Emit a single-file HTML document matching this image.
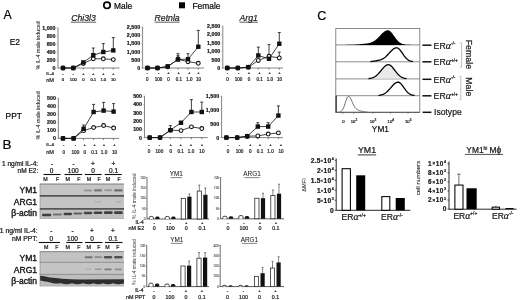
<!DOCTYPE html>
<html><head><meta charset="utf-8"><style>
html,body{margin:0;padding:0;background:#fff;}
svg{display:block;filter:blur(0.3px);}
text{font-family:"Liberation Sans", Arial, sans-serif;stroke:#1a1a1a;stroke-width:0.22px;stroke-linejoin:round;}
</style></head><body>
<svg width="520" height="300" viewBox="0 0 520 300">
<defs><filter id="bl" x="-50%" y="-100%" width="200%" height="300%"><feGaussianBlur stdDeviation="0.7"/></filter></defs>
<rect width="520" height="300" fill="#fff"/>
<line x1="58.00" y1="27.50" x2="58.00" y2="68.50" stroke="#777" stroke-width="0.9"/>
<line x1="58.00" y1="68.00" x2="119.50" y2="68.00" stroke="#777" stroke-width="0.9"/>
<line x1="56.40" y1="68.00" x2="58.00" y2="68.00" stroke="#aaa" stroke-width="0.6"/>
<text x="55.50" y="69.90" font-size="5.3" text-anchor="end" font-weight="bold" fill="#222">0</text>
<line x1="56.40" y1="60.00" x2="58.00" y2="60.00" stroke="#aaa" stroke-width="0.6"/>
<text x="55.50" y="61.90" font-size="5.3" text-anchor="end" font-weight="bold" fill="#222">200</text>
<line x1="56.40" y1="52.00" x2="58.00" y2="52.00" stroke="#aaa" stroke-width="0.6"/>
<text x="55.50" y="53.90" font-size="5.3" text-anchor="end" font-weight="bold" fill="#222">400</text>
<line x1="56.40" y1="44.00" x2="58.00" y2="44.00" stroke="#aaa" stroke-width="0.6"/>
<text x="55.50" y="45.90" font-size="5.3" text-anchor="end" font-weight="bold" fill="#222">600</text>
<line x1="56.40" y1="36.00" x2="58.00" y2="36.00" stroke="#aaa" stroke-width="0.6"/>
<text x="55.50" y="37.90" font-size="5.3" text-anchor="end" font-weight="bold" fill="#222">800</text>
<line x1="56.40" y1="28.00" x2="58.00" y2="28.00" stroke="#aaa" stroke-width="0.6"/>
<text x="55.50" y="29.90" font-size="5.3" text-anchor="end" font-weight="bold" fill="#222">1,000</text>
<line x1="63.00" y1="68.00" x2="63.00" y2="69.60" stroke="#444" stroke-width="0.7"/>
<line x1="73.30" y1="68.00" x2="73.30" y2="69.60" stroke="#444" stroke-width="0.7"/>
<line x1="83.30" y1="68.00" x2="83.30" y2="69.60" stroke="#444" stroke-width="0.7"/>
<line x1="93.30" y1="68.00" x2="93.30" y2="69.60" stroke="#444" stroke-width="0.7"/>
<line x1="103.30" y1="68.00" x2="103.30" y2="69.60" stroke="#444" stroke-width="0.7"/>
<line x1="113.30" y1="68.00" x2="113.30" y2="69.60" stroke="#444" stroke-width="0.7"/>
<polyline points="63.00,68.00 73.30,68.00 83.30,62.40 93.30,55.20 103.30,52.00 113.30,50.40" fill="none" stroke="#111" stroke-width="0.8"/>
<polyline points="63.00,68.00 73.30,68.00 83.30,63.60 93.30,58.80 103.30,58.80 113.30,59.60" fill="none" stroke="#111" stroke-width="0.8"/>
<line x1="93.30" y1="55.20" x2="93.30" y2="48.00" stroke="#111" stroke-width="0.8"/>
<line x1="91.80" y1="48.00" x2="94.80" y2="48.00" stroke="#111" stroke-width="0.8"/>
<line x1="103.30" y1="52.00" x2="103.30" y2="43.60" stroke="#111" stroke-width="0.8"/>
<line x1="101.80" y1="43.60" x2="104.80" y2="43.60" stroke="#111" stroke-width="0.8"/>
<line x1="113.30" y1="50.40" x2="113.30" y2="37.60" stroke="#111" stroke-width="0.8"/>
<line x1="111.80" y1="37.60" x2="114.80" y2="37.60" stroke="#111" stroke-width="0.8"/>
<line x1="103.30" y1="58.80" x2="103.30" y2="58.00" stroke="#111" stroke-width="0.8"/>
<line x1="101.80" y1="58.00" x2="104.80" y2="58.00" stroke="#111" stroke-width="0.8"/>
<circle cx="63.00" cy="68.00" r="1.9" fill="#fff" stroke="#111" stroke-width="1.05"/>
<circle cx="73.30" cy="68.00" r="1.9" fill="#fff" stroke="#111" stroke-width="1.05"/>
<circle cx="83.30" cy="63.60" r="1.9" fill="#fff" stroke="#111" stroke-width="1.05"/>
<circle cx="93.30" cy="58.80" r="1.9" fill="#fff" stroke="#111" stroke-width="1.05"/>
<circle cx="103.30" cy="58.80" r="1.9" fill="#fff" stroke="#111" stroke-width="1.05"/>
<circle cx="113.30" cy="59.60" r="1.9" fill="#fff" stroke="#111" stroke-width="1.05"/>
<rect x="60.80" y="65.80" width="4.40" height="4.40" fill="#111"/>
<rect x="71.10" y="65.80" width="4.40" height="4.40" fill="#111"/>
<rect x="81.10" y="60.20" width="4.40" height="4.40" fill="#111"/>
<rect x="91.10" y="53.00" width="4.40" height="4.40" fill="#111"/>
<rect x="101.10" y="49.80" width="4.40" height="4.40" fill="#111"/>
<rect x="111.10" y="48.20" width="4.40" height="4.40" fill="#111"/>
<text x="63.00" y="75.30" font-size="4.2" text-anchor="middle" fill="#333">-</text>
<text x="73.30" y="75.30" font-size="4.2" text-anchor="middle" fill="#333">-</text>
<text x="83.30" y="75.30" font-size="4.2" text-anchor="middle" fill="#333">+</text>
<text x="93.30" y="75.30" font-size="4.2" text-anchor="middle" fill="#333">+</text>
<text x="103.30" y="75.30" font-size="4.2" text-anchor="middle" fill="#333">+</text>
<text x="113.30" y="75.30" font-size="4.2" text-anchor="middle" fill="#333">+</text>
<text x="63.00" y="81.31" font-size="4.2" text-anchor="middle" fill="#333">0</text>
<text x="73.30" y="81.31" font-size="4.2" text-anchor="middle" fill="#333">100</text>
<text x="83.30" y="81.31" font-size="4.2" text-anchor="middle" fill="#333">0</text>
<text x="93.30" y="81.31" font-size="4.2" text-anchor="middle" fill="#333">0.1</text>
<text x="103.30" y="81.31" font-size="4.2" text-anchor="middle" fill="#333">1.0</text>
<text x="113.30" y="81.31" font-size="4.2" text-anchor="middle" fill="#333">10</text>
<text x="46.30" y="75.30" font-size="4.4" fill="#333">IL-4</text>
<text x="46.20" y="81.70" font-size="5.6" fill="#333">nM</text>
<text x="0" y="0" font-size="5.3" text-anchor="middle" fill="#444" style="stroke-width:0.1px" transform="translate(39.60,45.40) rotate(-90)">% IL-4 male induced</text>
<line x1="142.60" y1="26.60" x2="142.60" y2="68.50" stroke="#777" stroke-width="0.9"/>
<line x1="142.60" y1="68.00" x2="204.00" y2="68.00" stroke="#777" stroke-width="0.9"/>
<line x1="141.00" y1="68.00" x2="142.60" y2="68.00" stroke="#aaa" stroke-width="0.6"/>
<text x="140.10" y="69.90" font-size="5.3" text-anchor="end" font-weight="bold" fill="#222">0</text>
<line x1="141.00" y1="59.82" x2="142.60" y2="59.82" stroke="#aaa" stroke-width="0.6"/>
<text x="140.10" y="61.72" font-size="5.3" text-anchor="end" font-weight="bold" fill="#222">500</text>
<line x1="141.00" y1="51.64" x2="142.60" y2="51.64" stroke="#aaa" stroke-width="0.6"/>
<text x="140.10" y="53.54" font-size="5.3" text-anchor="end" font-weight="bold" fill="#222">1,000</text>
<line x1="141.00" y1="43.46" x2="142.60" y2="43.46" stroke="#aaa" stroke-width="0.6"/>
<text x="140.10" y="45.36" font-size="5.3" text-anchor="end" font-weight="bold" fill="#222">1,500</text>
<line x1="141.00" y1="35.28" x2="142.60" y2="35.28" stroke="#aaa" stroke-width="0.6"/>
<text x="140.10" y="37.18" font-size="5.3" text-anchor="end" font-weight="bold" fill="#222">2,000</text>
<line x1="141.00" y1="27.10" x2="142.60" y2="27.10" stroke="#aaa" stroke-width="0.6"/>
<text x="140.10" y="29.00" font-size="5.3" text-anchor="end" font-weight="bold" fill="#222">2,500</text>
<line x1="147.50" y1="68.00" x2="147.50" y2="69.60" stroke="#444" stroke-width="0.7"/>
<line x1="157.50" y1="68.00" x2="157.50" y2="69.60" stroke="#444" stroke-width="0.7"/>
<line x1="167.70" y1="68.00" x2="167.70" y2="69.60" stroke="#444" stroke-width="0.7"/>
<line x1="178.00" y1="68.00" x2="178.00" y2="69.60" stroke="#444" stroke-width="0.7"/>
<line x1="188.00" y1="68.00" x2="188.00" y2="69.60" stroke="#444" stroke-width="0.7"/>
<line x1="198.30" y1="68.00" x2="198.30" y2="69.60" stroke="#444" stroke-width="0.7"/>
<polyline points="147.50,68.00 157.50,68.00 167.70,66.36 178.00,59.49 188.00,59.17 198.30,46.73" fill="none" stroke="#111" stroke-width="0.8"/>
<polyline points="147.50,68.00 157.50,68.00 167.70,66.69 178.00,59.17 188.00,61.70 198.30,63.30" fill="none" stroke="#111" stroke-width="0.8"/>
<line x1="178.00" y1="59.49" x2="178.00" y2="53.69" stroke="#111" stroke-width="0.8"/>
<line x1="176.50" y1="53.69" x2="179.50" y2="53.69" stroke="#111" stroke-width="0.8"/>
<line x1="188.00" y1="59.17" x2="188.00" y2="53.69" stroke="#111" stroke-width="0.8"/>
<line x1="186.50" y1="53.69" x2="189.50" y2="53.69" stroke="#111" stroke-width="0.8"/>
<line x1="198.30" y1="46.73" x2="198.30" y2="30.37" stroke="#111" stroke-width="0.8"/>
<line x1="196.80" y1="30.37" x2="199.80" y2="30.37" stroke="#111" stroke-width="0.8"/>
<line x1="178.00" y1="59.17" x2="178.00" y2="55.81" stroke="#111" stroke-width="0.8"/>
<line x1="176.50" y1="55.81" x2="179.50" y2="55.81" stroke="#111" stroke-width="0.8"/>
<circle cx="147.50" cy="68.00" r="1.9" fill="#fff" stroke="#111" stroke-width="1.05"/>
<circle cx="157.50" cy="68.00" r="1.9" fill="#fff" stroke="#111" stroke-width="1.05"/>
<circle cx="167.70" cy="66.69" r="1.9" fill="#fff" stroke="#111" stroke-width="1.05"/>
<circle cx="178.00" cy="59.17" r="1.9" fill="#fff" stroke="#111" stroke-width="1.05"/>
<circle cx="188.00" cy="61.70" r="1.9" fill="#fff" stroke="#111" stroke-width="1.05"/>
<circle cx="198.30" cy="63.30" r="1.9" fill="#fff" stroke="#111" stroke-width="1.05"/>
<rect x="145.30" y="65.80" width="4.40" height="4.40" fill="#111"/>
<rect x="155.30" y="65.80" width="4.40" height="4.40" fill="#111"/>
<rect x="165.50" y="64.16" width="4.40" height="4.40" fill="#111"/>
<rect x="175.80" y="57.29" width="4.40" height="4.40" fill="#111"/>
<rect x="185.80" y="56.97" width="4.40" height="4.40" fill="#111"/>
<rect x="196.10" y="44.53" width="4.40" height="4.40" fill="#111"/>
<text x="147.20" y="74.00" font-size="4.2" text-anchor="middle" fill="#333">-</text>
<text x="158.60" y="74.00" font-size="4.2" text-anchor="middle" fill="#333">-</text>
<text x="168.40" y="74.00" font-size="4.2" text-anchor="middle" fill="#333">+</text>
<text x="178.80" y="74.00" font-size="4.2" text-anchor="middle" fill="#333">+</text>
<text x="189.30" y="74.00" font-size="4.2" text-anchor="middle" fill="#333">+</text>
<text x="198.60" y="74.00" font-size="4.2" text-anchor="middle" fill="#333">+</text>
<text x="147.20" y="81.02" font-size="4.5" text-anchor="middle" fill="#333">0</text>
<text x="158.60" y="81.02" font-size="4.5" text-anchor="middle" fill="#333">100</text>
<text x="168.40" y="81.02" font-size="4.5" text-anchor="middle" fill="#333">0</text>
<text x="178.80" y="81.02" font-size="4.5" text-anchor="middle" fill="#333">0.1</text>
<text x="189.30" y="81.02" font-size="4.5" text-anchor="middle" fill="#333">1.0</text>
<text x="198.60" y="81.02" font-size="4.5" text-anchor="middle" fill="#333">10</text>
<line x1="222.80" y1="25.70" x2="222.80" y2="68.50" stroke="#777" stroke-width="0.9"/>
<line x1="222.80" y1="68.00" x2="283.00" y2="68.00" stroke="#777" stroke-width="0.9"/>
<line x1="221.20" y1="68.00" x2="222.80" y2="68.00" stroke="#aaa" stroke-width="0.6"/>
<text x="220.30" y="69.90" font-size="5.3" text-anchor="end" font-weight="bold" fill="#222">0</text>
<line x1="221.20" y1="59.64" x2="222.80" y2="59.64" stroke="#aaa" stroke-width="0.6"/>
<text x="220.30" y="61.54" font-size="5.3" text-anchor="end" font-weight="bold" fill="#222">500</text>
<line x1="221.20" y1="51.28" x2="222.80" y2="51.28" stroke="#aaa" stroke-width="0.6"/>
<text x="220.30" y="53.18" font-size="5.3" text-anchor="end" font-weight="bold" fill="#222">1,000</text>
<line x1="221.20" y1="42.92" x2="222.80" y2="42.92" stroke="#aaa" stroke-width="0.6"/>
<text x="220.30" y="44.82" font-size="5.3" text-anchor="end" font-weight="bold" fill="#222">1,500</text>
<line x1="221.20" y1="34.56" x2="222.80" y2="34.56" stroke="#aaa" stroke-width="0.6"/>
<text x="220.30" y="36.46" font-size="5.3" text-anchor="end" font-weight="bold" fill="#222">2,000</text>
<line x1="221.20" y1="26.20" x2="222.80" y2="26.20" stroke="#aaa" stroke-width="0.6"/>
<text x="220.30" y="28.10" font-size="5.3" text-anchor="end" font-weight="bold" fill="#222">2,500</text>
<line x1="227.30" y1="68.00" x2="227.30" y2="69.60" stroke="#444" stroke-width="0.7"/>
<line x1="237.80" y1="68.00" x2="237.80" y2="69.60" stroke="#444" stroke-width="0.7"/>
<line x1="248.30" y1="68.00" x2="248.30" y2="69.60" stroke="#444" stroke-width="0.7"/>
<line x1="258.30" y1="68.00" x2="258.30" y2="69.60" stroke="#444" stroke-width="0.7"/>
<line x1="269.00" y1="68.00" x2="269.00" y2="69.60" stroke="#444" stroke-width="0.7"/>
<line x1="279.30" y1="68.00" x2="279.30" y2="69.60" stroke="#444" stroke-width="0.7"/>
<polyline points="227.30,68.00 237.80,68.00 248.30,67.16 258.30,55.46 269.00,58.80 279.30,43.76" fill="none" stroke="#111" stroke-width="0.8"/>
<polyline points="227.30,68.00 237.80,68.00 248.30,67.16 258.30,60.48 269.00,56.30 279.30,57.97" fill="none" stroke="#111" stroke-width="0.8"/>
<line x1="258.30" y1="55.46" x2="258.30" y2="47.10" stroke="#111" stroke-width="0.8"/>
<line x1="256.80" y1="47.10" x2="259.80" y2="47.10" stroke="#111" stroke-width="0.8"/>
<line x1="269.00" y1="58.80" x2="269.00" y2="44.59" stroke="#111" stroke-width="0.8"/>
<line x1="267.50" y1="44.59" x2="270.50" y2="44.59" stroke="#111" stroke-width="0.8"/>
<line x1="279.30" y1="43.76" x2="279.30" y2="32.55" stroke="#111" stroke-width="0.8"/>
<line x1="277.80" y1="32.55" x2="280.80" y2="32.55" stroke="#111" stroke-width="0.8"/>
<line x1="279.30" y1="57.97" x2="279.30" y2="52.12" stroke="#111" stroke-width="0.8"/>
<line x1="277.80" y1="52.12" x2="280.80" y2="52.12" stroke="#111" stroke-width="0.8"/>
<circle cx="227.30" cy="68.00" r="1.9" fill="#fff" stroke="#111" stroke-width="1.05"/>
<circle cx="237.80" cy="68.00" r="1.9" fill="#fff" stroke="#111" stroke-width="1.05"/>
<circle cx="248.30" cy="67.16" r="1.9" fill="#fff" stroke="#111" stroke-width="1.05"/>
<circle cx="258.30" cy="60.48" r="1.9" fill="#fff" stroke="#111" stroke-width="1.05"/>
<circle cx="269.00" cy="56.30" r="1.9" fill="#fff" stroke="#111" stroke-width="1.05"/>
<circle cx="279.30" cy="57.97" r="1.9" fill="#fff" stroke="#111" stroke-width="1.05"/>
<rect x="225.10" y="65.80" width="4.40" height="4.40" fill="#111"/>
<rect x="235.60" y="65.80" width="4.40" height="4.40" fill="#111"/>
<rect x="246.10" y="64.96" width="4.40" height="4.40" fill="#111"/>
<rect x="256.10" y="53.26" width="4.40" height="4.40" fill="#111"/>
<rect x="266.80" y="56.60" width="4.40" height="4.40" fill="#111"/>
<rect x="277.10" y="41.56" width="4.40" height="4.40" fill="#111"/>
<text x="227.40" y="74.00" font-size="4.2" text-anchor="middle" fill="#333">-</text>
<text x="238.60" y="74.00" font-size="4.2" text-anchor="middle" fill="#333">-</text>
<text x="249.00" y="74.00" font-size="4.2" text-anchor="middle" fill="#333">+</text>
<text x="259.60" y="74.00" font-size="4.2" text-anchor="middle" fill="#333">+</text>
<text x="269.80" y="74.00" font-size="4.2" text-anchor="middle" fill="#333">+</text>
<text x="279.60" y="74.00" font-size="4.2" text-anchor="middle" fill="#333">+</text>
<text x="227.40" y="81.02" font-size="4.5" text-anchor="middle" fill="#333">0</text>
<text x="238.60" y="81.02" font-size="4.5" text-anchor="middle" fill="#333">100</text>
<text x="249.00" y="81.02" font-size="4.5" text-anchor="middle" fill="#333">0</text>
<text x="259.60" y="81.02" font-size="4.5" text-anchor="middle" fill="#333">0.1</text>
<text x="269.80" y="81.02" font-size="4.5" text-anchor="middle" fill="#333">1.0</text>
<text x="279.60" y="81.02" font-size="4.5" text-anchor="middle" fill="#333">10</text>
<line x1="58.40" y1="97.90" x2="58.40" y2="138.90" stroke="#777" stroke-width="0.9"/>
<line x1="58.40" y1="138.40" x2="119.00" y2="138.40" stroke="#777" stroke-width="0.9"/>
<line x1="56.80" y1="138.40" x2="58.40" y2="138.40" stroke="#aaa" stroke-width="0.6"/>
<text x="55.90" y="140.30" font-size="5.3" text-anchor="end" font-weight="bold" fill="#222">0</text>
<line x1="56.80" y1="130.40" x2="58.40" y2="130.40" stroke="#aaa" stroke-width="0.6"/>
<text x="55.90" y="132.30" font-size="5.3" text-anchor="end" font-weight="bold" fill="#222">100</text>
<line x1="56.80" y1="122.40" x2="58.40" y2="122.40" stroke="#aaa" stroke-width="0.6"/>
<text x="55.90" y="124.30" font-size="5.3" text-anchor="end" font-weight="bold" fill="#222">200</text>
<line x1="56.80" y1="114.40" x2="58.40" y2="114.40" stroke="#aaa" stroke-width="0.6"/>
<text x="55.90" y="116.30" font-size="5.3" text-anchor="end" font-weight="bold" fill="#222">300</text>
<line x1="56.80" y1="106.40" x2="58.40" y2="106.40" stroke="#aaa" stroke-width="0.6"/>
<text x="55.90" y="108.30" font-size="5.3" text-anchor="end" font-weight="bold" fill="#222">400</text>
<line x1="56.80" y1="98.40" x2="58.40" y2="98.40" stroke="#aaa" stroke-width="0.6"/>
<text x="55.90" y="100.30" font-size="5.3" text-anchor="end" font-weight="bold" fill="#222">500</text>
<line x1="63.00" y1="138.40" x2="63.00" y2="140.00" stroke="#444" stroke-width="0.7"/>
<line x1="73.60" y1="138.40" x2="73.60" y2="140.00" stroke="#444" stroke-width="0.7"/>
<line x1="83.60" y1="138.40" x2="83.60" y2="140.00" stroke="#444" stroke-width="0.7"/>
<line x1="93.60" y1="138.40" x2="93.60" y2="140.00" stroke="#444" stroke-width="0.7"/>
<line x1="103.60" y1="138.40" x2="103.60" y2="140.00" stroke="#444" stroke-width="0.7"/>
<line x1="113.60" y1="138.40" x2="113.60" y2="140.00" stroke="#444" stroke-width="0.7"/>
<polyline points="63.00,138.40 73.60,138.40 83.60,128.80 93.60,112.00 103.60,110.64 113.60,111.60" fill="none" stroke="#111" stroke-width="0.8"/>
<polyline points="63.00,138.40 73.60,138.40 83.60,130.64 93.60,127.60 103.60,125.60 113.60,128.00" fill="none" stroke="#111" stroke-width="0.8"/>
<line x1="83.60" y1="128.80" x2="83.60" y2="125.04" stroke="#111" stroke-width="0.8"/>
<line x1="82.10" y1="125.04" x2="85.10" y2="125.04" stroke="#111" stroke-width="0.8"/>
<line x1="93.60" y1="112.00" x2="93.60" y2="104.40" stroke="#111" stroke-width="0.8"/>
<line x1="92.10" y1="104.40" x2="95.10" y2="104.40" stroke="#111" stroke-width="0.8"/>
<line x1="103.60" y1="110.64" x2="103.60" y2="102.40" stroke="#111" stroke-width="0.8"/>
<line x1="102.10" y1="102.40" x2="105.10" y2="102.40" stroke="#111" stroke-width="0.8"/>
<line x1="113.60" y1="111.60" x2="113.60" y2="103.60" stroke="#111" stroke-width="0.8"/>
<line x1="112.10" y1="103.60" x2="115.10" y2="103.60" stroke="#111" stroke-width="0.8"/>
<line x1="93.60" y1="127.60" x2="93.60" y2="126.00" stroke="#111" stroke-width="0.8"/>
<line x1="92.10" y1="126.00" x2="95.10" y2="126.00" stroke="#111" stroke-width="0.8"/>
<line x1="103.60" y1="125.60" x2="103.60" y2="123.60" stroke="#111" stroke-width="0.8"/>
<line x1="102.10" y1="123.60" x2="105.10" y2="123.60" stroke="#111" stroke-width="0.8"/>
<circle cx="63.00" cy="138.40" r="1.9" fill="#fff" stroke="#111" stroke-width="1.05"/>
<circle cx="73.60" cy="138.40" r="1.9" fill="#fff" stroke="#111" stroke-width="1.05"/>
<circle cx="83.60" cy="130.64" r="1.9" fill="#fff" stroke="#111" stroke-width="1.05"/>
<circle cx="93.60" cy="127.60" r="1.9" fill="#fff" stroke="#111" stroke-width="1.05"/>
<circle cx="103.60" cy="125.60" r="1.9" fill="#fff" stroke="#111" stroke-width="1.05"/>
<circle cx="113.60" cy="128.00" r="1.9" fill="#fff" stroke="#111" stroke-width="1.05"/>
<rect x="60.80" y="136.20" width="4.40" height="4.40" fill="#111"/>
<rect x="71.40" y="136.20" width="4.40" height="4.40" fill="#111"/>
<rect x="81.40" y="126.60" width="4.40" height="4.40" fill="#111"/>
<rect x="91.40" y="109.80" width="4.40" height="4.40" fill="#111"/>
<rect x="101.40" y="108.44" width="4.40" height="4.40" fill="#111"/>
<rect x="111.40" y="109.40" width="4.40" height="4.40" fill="#111"/>
<text x="63.70" y="145.90" font-size="4.2" text-anchor="middle" fill="#333">-</text>
<text x="75.40" y="145.90" font-size="4.2" text-anchor="middle" fill="#333">-</text>
<text x="84.80" y="145.90" font-size="4.2" text-anchor="middle" fill="#333">+</text>
<text x="94.40" y="145.90" font-size="4.2" text-anchor="middle" fill="#333">+</text>
<text x="104.00" y="145.90" font-size="4.2" text-anchor="middle" fill="#333">+</text>
<text x="114.60" y="145.90" font-size="4.2" text-anchor="middle" fill="#333">+</text>
<text x="63.70" y="153.69" font-size="4.7" text-anchor="middle" fill="#333">0</text>
<text x="75.40" y="153.69" font-size="4.7" text-anchor="middle" fill="#333">100</text>
<text x="84.80" y="153.69" font-size="4.7" text-anchor="middle" fill="#333">0</text>
<text x="94.40" y="153.69" font-size="4.7" text-anchor="middle" fill="#333">0.1</text>
<text x="104.00" y="153.69" font-size="4.7" text-anchor="middle" fill="#333">1.0</text>
<text x="114.60" y="153.69" font-size="4.7" text-anchor="middle" fill="#333">10</text>
<text x="46.30" y="145.90" font-size="4.4" fill="#333">IL-4</text>
<text x="46.20" y="153.90" font-size="5.6" fill="#333">nM</text>
<text x="0" y="0" font-size="5.3" text-anchor="middle" fill="#444" style="stroke-width:0.1px" transform="translate(40.20,115.40) rotate(-90)">% IL-4 male induced</text>
<line x1="144.50" y1="95.80" x2="144.50" y2="138.10" stroke="#777" stroke-width="0.9"/>
<line x1="144.50" y1="137.60" x2="207.70" y2="137.60" stroke="#777" stroke-width="0.9"/>
<line x1="142.90" y1="137.60" x2="144.50" y2="137.60" stroke="#aaa" stroke-width="0.6"/>
<text x="142.00" y="139.50" font-size="5.3" text-anchor="end" font-weight="bold" fill="#222">0</text>
<line x1="142.90" y1="129.34" x2="144.50" y2="129.34" stroke="#aaa" stroke-width="0.6"/>
<text x="142.00" y="131.24" font-size="5.3" text-anchor="end" font-weight="bold" fill="#222">100</text>
<line x1="142.90" y1="121.08" x2="144.50" y2="121.08" stroke="#aaa" stroke-width="0.6"/>
<text x="142.00" y="122.98" font-size="5.3" text-anchor="end" font-weight="bold" fill="#222">200</text>
<line x1="142.90" y1="112.82" x2="144.50" y2="112.82" stroke="#aaa" stroke-width="0.6"/>
<text x="142.00" y="114.72" font-size="5.3" text-anchor="end" font-weight="bold" fill="#222">300</text>
<line x1="142.90" y1="104.56" x2="144.50" y2="104.56" stroke="#aaa" stroke-width="0.6"/>
<text x="142.00" y="106.46" font-size="5.3" text-anchor="end" font-weight="bold" fill="#222">400</text>
<line x1="142.90" y1="96.30" x2="144.50" y2="96.30" stroke="#aaa" stroke-width="0.6"/>
<text x="142.00" y="98.20" font-size="5.3" text-anchor="end" font-weight="bold" fill="#222">500</text>
<line x1="149.70" y1="137.60" x2="149.70" y2="139.20" stroke="#444" stroke-width="0.7"/>
<line x1="160.00" y1="137.60" x2="160.00" y2="139.20" stroke="#444" stroke-width="0.7"/>
<line x1="170.40" y1="137.60" x2="170.40" y2="139.20" stroke="#444" stroke-width="0.7"/>
<line x1="181.00" y1="137.60" x2="181.00" y2="139.20" stroke="#444" stroke-width="0.7"/>
<line x1="191.40" y1="137.60" x2="191.40" y2="139.20" stroke="#444" stroke-width="0.7"/>
<line x1="201.80" y1="137.60" x2="201.80" y2="139.20" stroke="#444" stroke-width="0.7"/>
<polyline points="149.70,137.60 160.00,137.60 170.40,130.17 181.00,122.73 191.40,111.99 201.80,111.99" fill="none" stroke="#111" stroke-width="0.8"/>
<polyline points="149.70,137.60 160.00,137.60 170.40,130.17 181.00,130.58 191.40,126.86 201.80,128.51" fill="none" stroke="#111" stroke-width="0.8"/>
<line x1="170.40" y1="130.17" x2="170.40" y2="125.62" stroke="#111" stroke-width="0.8"/>
<line x1="168.90" y1="125.62" x2="171.90" y2="125.62" stroke="#111" stroke-width="0.8"/>
<line x1="191.40" y1="111.99" x2="191.40" y2="99.60" stroke="#111" stroke-width="0.8"/>
<line x1="189.90" y1="99.60" x2="192.90" y2="99.60" stroke="#111" stroke-width="0.8"/>
<line x1="201.80" y1="111.99" x2="201.80" y2="102.08" stroke="#111" stroke-width="0.8"/>
<line x1="200.30" y1="102.08" x2="203.30" y2="102.08" stroke="#111" stroke-width="0.8"/>
<circle cx="149.70" cy="137.60" r="1.9" fill="#fff" stroke="#111" stroke-width="1.05"/>
<circle cx="160.00" cy="137.60" r="1.9" fill="#fff" stroke="#111" stroke-width="1.05"/>
<circle cx="170.40" cy="130.17" r="1.9" fill="#fff" stroke="#111" stroke-width="1.05"/>
<circle cx="181.00" cy="130.58" r="1.9" fill="#fff" stroke="#111" stroke-width="1.05"/>
<circle cx="191.40" cy="126.86" r="1.9" fill="#fff" stroke="#111" stroke-width="1.05"/>
<circle cx="201.80" cy="128.51" r="1.9" fill="#fff" stroke="#111" stroke-width="1.05"/>
<rect x="147.50" y="135.40" width="4.40" height="4.40" fill="#111"/>
<rect x="157.80" y="135.40" width="4.40" height="4.40" fill="#111"/>
<rect x="168.20" y="127.97" width="4.40" height="4.40" fill="#111"/>
<rect x="178.80" y="120.53" width="4.40" height="4.40" fill="#111"/>
<rect x="189.20" y="109.79" width="4.40" height="4.40" fill="#111"/>
<rect x="199.60" y="109.79" width="4.40" height="4.40" fill="#111"/>
<text x="149.00" y="146.30" font-size="4.2" text-anchor="middle" fill="#333">-</text>
<text x="159.40" y="146.30" font-size="4.2" text-anchor="middle" fill="#333">-</text>
<text x="170.80" y="146.30" font-size="4.2" text-anchor="middle" fill="#333">+</text>
<text x="180.70" y="146.30" font-size="4.2" text-anchor="middle" fill="#333">+</text>
<text x="191.00" y="146.30" font-size="4.2" text-anchor="middle" fill="#333">+</text>
<text x="201.90" y="146.30" font-size="4.2" text-anchor="middle" fill="#333">+</text>
<text x="149.00" y="152.86" font-size="4.6" text-anchor="middle" fill="#333">0</text>
<text x="159.40" y="152.86" font-size="4.6" text-anchor="middle" fill="#333">100</text>
<text x="170.80" y="152.86" font-size="4.6" text-anchor="middle" fill="#333">0</text>
<text x="180.70" y="152.86" font-size="4.6" text-anchor="middle" fill="#333">0.1</text>
<text x="191.00" y="152.86" font-size="4.6" text-anchor="middle" fill="#333">1.0</text>
<text x="201.90" y="152.86" font-size="4.6" text-anchor="middle" fill="#333">10</text>
<line x1="221.60" y1="95.80" x2="221.60" y2="138.10" stroke="#777" stroke-width="0.9"/>
<line x1="221.60" y1="137.60" x2="283.00" y2="137.60" stroke="#777" stroke-width="0.9"/>
<line x1="220.00" y1="137.60" x2="221.60" y2="137.60" stroke="#aaa" stroke-width="0.6"/>
<text x="219.10" y="139.50" font-size="5.3" text-anchor="end" font-weight="bold" fill="#222">0</text>
<line x1="220.00" y1="123.83" x2="221.60" y2="123.83" stroke="#aaa" stroke-width="0.6"/>
<text x="219.10" y="125.73" font-size="5.3" text-anchor="end" font-weight="bold" fill="#222">500</text>
<line x1="220.00" y1="110.07" x2="221.60" y2="110.07" stroke="#aaa" stroke-width="0.6"/>
<text x="219.10" y="111.97" font-size="5.3" text-anchor="end" font-weight="bold" fill="#222">1,000</text>
<line x1="220.00" y1="96.30" x2="221.60" y2="96.30" stroke="#aaa" stroke-width="0.6"/>
<text x="219.10" y="98.20" font-size="5.3" text-anchor="end" font-weight="bold" fill="#222">1,500</text>
<line x1="226.40" y1="137.60" x2="226.40" y2="139.20" stroke="#444" stroke-width="0.7"/>
<line x1="237.20" y1="137.60" x2="237.20" y2="139.20" stroke="#444" stroke-width="0.7"/>
<line x1="247.20" y1="137.60" x2="247.20" y2="139.20" stroke="#444" stroke-width="0.7"/>
<line x1="257.80" y1="137.60" x2="257.80" y2="139.20" stroke="#444" stroke-width="0.7"/>
<line x1="268.20" y1="137.60" x2="268.20" y2="139.20" stroke="#444" stroke-width="0.7"/>
<line x1="278.40" y1="137.60" x2="278.40" y2="139.20" stroke="#444" stroke-width="0.7"/>
<polyline points="226.40,137.60 237.20,137.60 247.20,136.22 257.80,126.59 268.20,126.59 278.40,115.57" fill="none" stroke="#111" stroke-width="0.8"/>
<polyline points="226.40,137.60 237.20,137.60 247.20,136.22 257.80,135.95 268.20,134.02 278.40,132.92" fill="none" stroke="#111" stroke-width="0.8"/>
<line x1="257.80" y1="126.59" x2="257.80" y2="122.73" stroke="#111" stroke-width="0.8"/>
<line x1="256.30" y1="122.73" x2="259.30" y2="122.73" stroke="#111" stroke-width="0.8"/>
<line x1="268.20" y1="126.59" x2="268.20" y2="122.73" stroke="#111" stroke-width="0.8"/>
<line x1="266.70" y1="122.73" x2="269.70" y2="122.73" stroke="#111" stroke-width="0.8"/>
<line x1="278.40" y1="115.57" x2="278.40" y2="105.94" stroke="#111" stroke-width="0.8"/>
<line x1="276.90" y1="105.94" x2="279.90" y2="105.94" stroke="#111" stroke-width="0.8"/>
<circle cx="226.40" cy="137.60" r="1.9" fill="#fff" stroke="#111" stroke-width="1.05"/>
<circle cx="237.20" cy="137.60" r="1.9" fill="#fff" stroke="#111" stroke-width="1.05"/>
<circle cx="247.20" cy="136.22" r="1.9" fill="#fff" stroke="#111" stroke-width="1.05"/>
<circle cx="257.80" cy="135.95" r="1.9" fill="#fff" stroke="#111" stroke-width="1.05"/>
<circle cx="268.20" cy="134.02" r="1.9" fill="#fff" stroke="#111" stroke-width="1.05"/>
<circle cx="278.40" cy="132.92" r="1.9" fill="#fff" stroke="#111" stroke-width="1.05"/>
<rect x="224.20" y="135.40" width="4.40" height="4.40" fill="#111"/>
<rect x="235.00" y="135.40" width="4.40" height="4.40" fill="#111"/>
<rect x="245.00" y="134.02" width="4.40" height="4.40" fill="#111"/>
<rect x="255.60" y="124.39" width="4.40" height="4.40" fill="#111"/>
<rect x="266.00" y="124.39" width="4.40" height="4.40" fill="#111"/>
<rect x="276.20" y="113.37" width="4.40" height="4.40" fill="#111"/>
<text x="228.00" y="146.30" font-size="4.2" text-anchor="middle" fill="#333">-</text>
<text x="239.50" y="146.30" font-size="4.2" text-anchor="middle" fill="#333">-</text>
<text x="250.30" y="146.30" font-size="4.2" text-anchor="middle" fill="#333">+</text>
<text x="260.00" y="146.30" font-size="4.2" text-anchor="middle" fill="#333">+</text>
<text x="270.50" y="146.30" font-size="4.2" text-anchor="middle" fill="#333">+</text>
<text x="281.00" y="146.30" font-size="4.2" text-anchor="middle" fill="#333">+</text>
<text x="228.00" y="152.86" font-size="4.6" text-anchor="middle" fill="#333">0</text>
<text x="239.50" y="152.86" font-size="4.6" text-anchor="middle" fill="#333">100</text>
<text x="250.30" y="152.86" font-size="4.6" text-anchor="middle" fill="#333">0</text>
<text x="260.00" y="152.86" font-size="4.6" text-anchor="middle" fill="#333">0.1</text>
<text x="270.50" y="152.86" font-size="4.6" text-anchor="middle" fill="#333">1.0</text>
<text x="281.00" y="152.86" font-size="4.6" text-anchor="middle" fill="#333">10</text>
<text x="83.50" y="21.20" font-size="8.7" text-anchor="middle" font-style="italic" fill="#222">Chi3l3</text>
<line x1="70.80" y1="22.20" x2="96.20" y2="22.20" stroke="#333" stroke-width="0.8"/>
<text x="167.10" y="21.20" font-size="8.7" text-anchor="middle" font-style="italic" fill="#222">Retnla</text>
<line x1="154.60" y1="22.20" x2="179.60" y2="22.20" stroke="#333" stroke-width="0.8"/>
<text x="248.75" y="21.20" font-size="8.7" text-anchor="middle" font-style="italic" fill="#222">Arg1</text>
<line x1="239.50" y1="22.20" x2="258.00" y2="22.20" stroke="#333" stroke-width="0.8"/>
<circle cx="107" cy="5.3" r="3.2" fill="#fff" stroke="#000" stroke-width="1.7"/>
<text x="114.00" y="8.60" font-size="8.4">Male</text>
<rect x="179.00" y="2.30" width="6.00" height="6.00" fill="#000"/>
<text x="192.50" y="8.60" font-size="8.4">Female</text>
<text x="3.50" y="19.00" font-size="12.3">A</text>
<text x="2.60" y="148.70" font-size="13.5">B</text>
<text x="317.20" y="19.80" font-size="12.6">C</text>
<text x="9.70" y="45.20" font-size="8.5">E2</text>
<text x="5.60" y="119.30" font-size="8.4">PPT</text>
<text x="38.20" y="166.14" font-size="6.5" text-anchor="end" fill="#111">1 ng/ml IL-4:</text>
<text x="38.20" y="173.34" font-size="6.5" text-anchor="end" fill="#111">nM E2:</text>
<text x="51.80" y="166.10" font-size="6.5" text-anchor="middle" fill="#111">-</text>
<text x="73.60" y="166.10" font-size="6.5" text-anchor="middle" fill="#111">-</text>
<text x="92.80" y="166.10" font-size="6.5" text-anchor="middle" fill="#111">+</text>
<text x="113.40" y="166.10" font-size="6.5" text-anchor="middle" fill="#111">+</text>
<text x="51.60" y="173.30" font-size="6.5" text-anchor="middle" fill="#111">0</text>
<text x="73.20" y="173.30" font-size="6.5" text-anchor="middle" fill="#111">100</text>
<text x="93.10" y="173.30" font-size="6.5" text-anchor="middle" fill="#111">0</text>
<text x="113.60" y="173.30" font-size="6.5" text-anchor="middle" fill="#111">0.1</text>
<line x1="43.50" y1="174.50" x2="60.60" y2="174.50" stroke="#111" stroke-width="1.1"/>
<line x1="64.50" y1="174.50" x2="82.20" y2="174.50" stroke="#111" stroke-width="1.1"/>
<line x1="84.70" y1="174.50" x2="101.70" y2="174.50" stroke="#111" stroke-width="1.1"/>
<line x1="104.80" y1="174.50" x2="121.80" y2="174.50" stroke="#111" stroke-width="1.1"/>
<text x="45.40" y="180.90" font-size="5.3" text-anchor="middle" fill="#222">M</text>
<text x="57.60" y="180.90" font-size="5.3" text-anchor="middle" fill="#222">F</text>
<text x="67.60" y="180.90" font-size="5.3" text-anchor="middle" fill="#222">M</text>
<text x="78.90" y="180.90" font-size="5.3" text-anchor="middle" fill="#222">F</text>
<text x="88.90" y="180.90" font-size="5.3" text-anchor="middle" fill="#222">M</text>
<text x="99.10" y="180.90" font-size="5.3" text-anchor="middle" fill="#222">F</text>
<text x="108.00" y="180.90" font-size="5.3" text-anchor="middle" fill="#222">M</text>
<text x="119.10" y="180.90" font-size="5.3" text-anchor="middle" fill="#222">F</text>
<text x="37.60" y="233.15" font-size="6.8" text-anchor="end" fill="#111">1 ng/ml IL-4:</text>
<text x="37.60" y="240.85" font-size="6.8" text-anchor="end" fill="#111">nM PPT:</text>
<text x="51.30" y="233.00" font-size="6.5" text-anchor="middle" fill="#111">-</text>
<text x="72.50" y="233.00" font-size="6.5" text-anchor="middle" fill="#111">-</text>
<text x="92.00" y="233.00" font-size="6.5" text-anchor="middle" fill="#111">+</text>
<text x="113.00" y="233.00" font-size="6.5" text-anchor="middle" fill="#111">+</text>
<text x="51.30" y="240.70" font-size="6.5" text-anchor="middle" fill="#111">0</text>
<text x="72.50" y="240.70" font-size="6.5" text-anchor="middle" fill="#111">100</text>
<text x="92.00" y="240.70" font-size="6.5" text-anchor="middle" fill="#111">0</text>
<text x="113.00" y="240.70" font-size="6.5" text-anchor="middle" fill="#111">0.1</text>
<line x1="38.80" y1="242.50" x2="60.00" y2="242.50" stroke="#111" stroke-width="1.1"/>
<line x1="66.30" y1="242.50" x2="82.50" y2="242.50" stroke="#111" stroke-width="1.1"/>
<line x1="85.00" y1="242.50" x2="102.50" y2="242.50" stroke="#111" stroke-width="1.1"/>
<line x1="105.00" y1="242.50" x2="122.50" y2="242.50" stroke="#111" stroke-width="1.1"/>
<text x="46.30" y="248.90" font-size="5.3" text-anchor="middle" fill="#222">M</text>
<text x="56.90" y="248.90" font-size="5.3" text-anchor="middle" fill="#222">F</text>
<text x="67.60" y="248.90" font-size="5.3" text-anchor="middle" fill="#222">M</text>
<text x="78.80" y="248.90" font-size="5.3" text-anchor="middle" fill="#222">F</text>
<text x="88.60" y="248.90" font-size="5.3" text-anchor="middle" fill="#222">M</text>
<text x="98.80" y="248.90" font-size="5.3" text-anchor="middle" fill="#222">F</text>
<text x="107.40" y="248.90" font-size="5.3" text-anchor="middle" fill="#222">M</text>
<text x="117.80" y="248.90" font-size="5.3" text-anchor="middle" fill="#222">F</text>
<rect x="39.80" y="183.70" width="84.20" height="35.10" fill="#c9c9c9"/>
<rect x="39.80" y="183.70" width="84.20" height="12.10" fill="#c5c5c5"/>
<rect x="39.80" y="195.80" width="84.20" height="13.00" fill="#c4c4c4"/>
<rect x="39.80" y="208.80" width="84.20" height="10.00" fill="#c0c0c0"/>
<line x1="39.80" y1="184.10" x2="124.00" y2="184.10" stroke="#777" stroke-width="0.8"/>
<line x1="40.20" y1="183.70" x2="40.20" y2="218.80" stroke="#999" stroke-width="0.6"/>
<line x1="39.80" y1="218.50" x2="124.00" y2="218.50" stroke="#aaa" stroke-width="0.6"/>
<line x1="39.80" y1="195.80" x2="124.00" y2="195.80" stroke="#555" stroke-width="1.7"/>
<line x1="39.80" y1="208.80" x2="124.00" y2="208.80" stroke="#555" stroke-width="1.7"/>
<rect x="84.00" y="189.40" width="8.00" height="2.00" rx="0.91" fill="#111" opacity="0.26" filter="url(#bl)"/>
<rect x="94.00" y="189.20" width="8.00" height="2.20" rx="1.00" fill="#111" opacity="0.42" filter="url(#bl)"/>
<rect x="104.30" y="189.30" width="8.00" height="2.00" rx="0.91" fill="#111" opacity="0.24" filter="url(#bl)"/>
<rect x="114.15" y="189.20" width="8.50" height="2.20" rx="1.00" fill="#111" opacity="0.46" filter="url(#bl)"/>
<rect x="94.50" y="201.10" width="7.00" height="1.40" rx="0.64" fill="#111" opacity="0.10" filter="url(#bl)"/>
<rect x="115.40" y="201.00" width="6.00" height="1.60" rx="0.73" fill="#111" opacity="0.12" filter="url(#bl)"/>
<rect x="41.90" y="213.80" width="9.40" height="2.40" rx="1.09" fill="#111" opacity="0.72" filter="url(#bl)"/>
<rect x="52.90" y="213.40" width="9.00" height="2.00" rx="0.91" fill="#111" opacity="0.45" filter="url(#bl)"/>
<rect x="63.50" y="212.80" width="8.60" height="2.40" rx="1.09" fill="#111" opacity="0.72" filter="url(#bl)"/>
<rect x="73.40" y="212.50" width="8.80" height="2.00" rx="0.91" fill="#111" opacity="0.55" filter="url(#bl)"/>
<rect x="83.70" y="211.80" width="8.60" height="2.40" rx="1.09" fill="#111" opacity="0.68" filter="url(#bl)"/>
<rect x="93.70" y="211.40" width="8.60" height="2.60" rx="1.18" fill="#111" opacity="0.72" filter="url(#bl)"/>
<rect x="103.90" y="211.30" width="8.80" height="2.60" rx="1.18" fill="#111" opacity="0.72" filter="url(#bl)"/>
<rect x="114.00" y="211.30" width="8.80" height="2.60" rx="1.18" fill="#111" opacity="0.72" filter="url(#bl)"/>
<rect x="39.80" y="251.30" width="84.20" height="34.90" fill="#c9c9c9"/>
<rect x="39.80" y="251.30" width="84.20" height="11.00" fill="#c2c2c2"/>
<rect x="39.80" y="262.30" width="84.20" height="12.10" fill="#c4c4c4"/>
<rect x="39.80" y="274.40" width="84.20" height="11.80" fill="#bdbdbd"/>
<line x1="39.80" y1="251.70" x2="124.00" y2="251.70" stroke="#777" stroke-width="0.8"/>
<line x1="40.20" y1="251.30" x2="40.20" y2="286.20" stroke="#999" stroke-width="0.6"/>
<line x1="39.80" y1="285.90" x2="124.00" y2="285.90" stroke="#aaa" stroke-width="0.6"/>
<line x1="39.80" y1="262.30" x2="124.00" y2="262.30" stroke="#8a8a8a" stroke-width="0.9"/>
<line x1="39.80" y1="274.40" x2="124.00" y2="274.40" stroke="#8a8a8a" stroke-width="0.9"/>
<rect x="84.70" y="256.20" width="8.00" height="2.00" rx="0.91" fill="#111" opacity="0.42" filter="url(#bl)"/>
<rect x="94.55" y="256.30" width="7.50" height="1.80" rx="0.82" fill="#111" opacity="0.32" filter="url(#bl)"/>
<rect x="103.80" y="256.00" width="8.40" height="2.40" rx="1.09" fill="#111" opacity="0.62" filter="url(#bl)"/>
<rect x="114.00" y="256.00" width="8.60" height="2.40" rx="1.09" fill="#111" opacity="0.62" filter="url(#bl)"/>
<rect x="85.70" y="268.60" width="6.00" height="1.40" rx="0.64" fill="#111" opacity="0.10" filter="url(#bl)"/>
<rect x="94.80" y="268.50" width="7.00" height="1.60" rx="0.73" fill="#111" opacity="0.25" filter="url(#bl)"/>
<rect x="104.30" y="268.40" width="7.40" height="1.80" rx="0.82" fill="#111" opacity="0.40" filter="url(#bl)"/>
<rect x="114.80" y="268.40" width="7.00" height="1.80" rx="0.82" fill="#111" opacity="0.32" filter="url(#bl)"/>
<path d="M40.2,275.8 C44,276.0 47,276.8 50,277.6 C54,278.0 58,278.4 62,278.8 C68,279.2 74,279.4 80,279.5 L124,279.3 L124,283.4 Q120.8,284.2 118.3,284.2 Q115.8,284.2 113.2,283.2 Q110.5,284.2 108.0,284.2 Q105.5,284.2 103.2,283.2 Q100.8,284.2 98.3,284.2 Q95.8,284.2 93.5,283.2 Q91.2,284.2 88.7,284.2 Q86.2,284.2 83.1,283.2 Q80.0,284.2 77.5,284.2 Q75.0,284.2 72.0,283.2 Q69.0,284.2 66.5,284.2 Q64.0,284.2 61.0,283.2 Q58.0,283.4 55.5,283.4 Q53.0,283.4 50.2,282.4 Q47.5,281.6 45.0,281.6 L40.2,280.6 Z" fill="#2e2e2e" filter="url(#bl)"/>
<text x="37.00" y="193.30" font-size="8.5" text-anchor="end" fill="#111" style="stroke-width:0.38px">YM1</text>
<text x="37.00" y="205.20" font-size="8.5" text-anchor="end" fill="#111" style="stroke-width:0.38px">ARG1</text>
<text x="37.00" y="215.70" font-size="8.5" text-anchor="end" fill="#111" style="stroke-width:0.38px">β-actin</text>
<text x="37.00" y="260.90" font-size="8.5" text-anchor="end" fill="#111" style="stroke-width:0.38px">YM1</text>
<text x="37.00" y="273.20" font-size="8.5" text-anchor="end" fill="#111" style="stroke-width:0.38px">ARG1</text>
<text x="37.00" y="283.70" font-size="8.5" text-anchor="end" fill="#111" style="stroke-width:0.38px">β-actin</text>
<line x1="147.00" y1="177.10" x2="147.00" y2="219.00" stroke="#333" stroke-width="0.7"/>
<line x1="147.00" y1="219.00" x2="209.00" y2="219.00" stroke="#333" stroke-width="0.8"/>
<line x1="145.70" y1="219.00" x2="147.00" y2="219.00" stroke="#555" stroke-width="0.5"/>
<text x="145.40" y="220.10" font-size="3.0" text-anchor="end" fill="#666" style="stroke-width:0.08px">0</text>
<line x1="145.70" y1="208.65" x2="147.00" y2="208.65" stroke="#555" stroke-width="0.5"/>
<text x="145.40" y="209.75" font-size="3.0" text-anchor="end" fill="#666" style="stroke-width:0.08px">50</text>
<line x1="145.70" y1="198.30" x2="147.00" y2="198.30" stroke="#555" stroke-width="0.5"/>
<text x="145.40" y="199.40" font-size="3.0" text-anchor="end" fill="#666" style="stroke-width:0.08px">100</text>
<line x1="145.70" y1="187.95" x2="147.00" y2="187.95" stroke="#555" stroke-width="0.5"/>
<text x="145.40" y="189.05" font-size="3.0" text-anchor="end" fill="#666" style="stroke-width:0.08px">150</text>
<line x1="145.70" y1="177.60" x2="147.00" y2="177.60" stroke="#555" stroke-width="0.5"/>
<text x="145.40" y="178.70" font-size="3.0" text-anchor="end" fill="#666" style="stroke-width:0.08px">200</text>
<path d="M149.20,219.00 V217.70 Q149.20,216.40 151.30,216.40 Q153.40,216.40 153.40,217.70 V219.00" fill="#fff" stroke="#111" stroke-width="0.8"/>
<path d="M155.30,219.00 V217.70 Q155.30,216.40 157.40,216.40 Q159.50,216.40 159.50,217.70 V219.00 Z" fill="#111"/>
<text x="154.30" y="223.80" font-size="4.2" text-anchor="middle" fill="#333">-</text>
<text x="154.30" y="230.40" font-size="5.3" text-anchor="middle" fill="#222">0</text>
<path d="M165.20,219.00 V217.70 Q165.20,216.40 167.30,216.40 Q169.40,216.40 169.40,217.70 V219.00" fill="#fff" stroke="#111" stroke-width="0.8"/>
<path d="M171.30,219.00 V217.70 Q171.30,216.40 173.40,216.40 Q175.50,216.40 175.50,217.70 V219.00 Z" fill="#111"/>
<text x="170.30" y="223.80" font-size="4.2" text-anchor="middle" fill="#333">-</text>
<text x="170.30" y="230.40" font-size="5.3" text-anchor="middle" fill="#222">100</text>
<line x1="189.40" y1="196.64" x2="189.40" y2="193.95" stroke="#333" stroke-width="0.6"/>
<line x1="188.40" y1="193.95" x2="190.40" y2="193.95" stroke="#333" stroke-width="0.6"/>
<rect x="181.20" y="198.30" width="4.20" height="20.70" fill="#fff" stroke="#111" stroke-width="0.7"/>
<rect x="187.30" y="196.64" width="4.20" height="22.36" fill="#111"/>
<text x="186.30" y="223.80" font-size="4.2" text-anchor="middle" fill="#333">+</text>
<text x="186.30" y="230.40" font-size="5.3" text-anchor="middle" fill="#222">0</text>
<line x1="199.30" y1="191.06" x2="199.30" y2="185.05" stroke="#333" stroke-width="0.6"/>
<line x1="198.30" y1="185.05" x2="200.30" y2="185.05" stroke="#333" stroke-width="0.6"/>
<line x1="205.40" y1="194.78" x2="205.40" y2="187.95" stroke="#333" stroke-width="0.6"/>
<line x1="204.40" y1="187.95" x2="206.40" y2="187.95" stroke="#333" stroke-width="0.6"/>
<rect x="197.20" y="191.06" width="4.20" height="27.95" fill="#fff" stroke="#111" stroke-width="0.7"/>
<rect x="203.30" y="194.78" width="4.20" height="24.22" fill="#111"/>
<text x="202.30" y="223.80" font-size="4.2" text-anchor="middle" fill="#333">+</text>
<text x="202.30" y="230.40" font-size="5.3" text-anchor="middle" fill="#222">0.1</text>
<text x="176.30" y="176.30" font-size="6.4" text-anchor="middle" fill="#222" style="stroke-width:0.06px">YM1</text>
<line x1="170.50" y1="177.60" x2="182.10" y2="177.60" stroke="#333" stroke-width="0.6"/>
<text x="143.80" y="224.10" font-size="4.8" text-anchor="end" fill="#333">IL-4</text>
<text x="144.20" y="230.40" font-size="5.4" text-anchor="end" fill="#222">nM E2</text>
<text x="0" y="0" font-size="5" text-anchor="middle" fill="#555" style="stroke-width:0.05px" transform="translate(135.70,196.20) rotate(-90)">% IL-4 male induced</text>
<line x1="220.60" y1="177.10" x2="220.60" y2="218.80" stroke="#333" stroke-width="0.7"/>
<line x1="220.60" y1="218.80" x2="284.00" y2="218.80" stroke="#333" stroke-width="0.8"/>
<line x1="219.30" y1="218.80" x2="220.60" y2="218.80" stroke="#555" stroke-width="0.5"/>
<text x="219.00" y="219.90" font-size="3.0" text-anchor="end" fill="#666" style="stroke-width:0.08px">0</text>
<line x1="219.30" y1="208.50" x2="220.60" y2="208.50" stroke="#555" stroke-width="0.5"/>
<text x="219.00" y="209.60" font-size="3.0" text-anchor="end" fill="#666" style="stroke-width:0.08px">50</text>
<line x1="219.30" y1="198.20" x2="220.60" y2="198.20" stroke="#555" stroke-width="0.5"/>
<text x="219.00" y="199.30" font-size="3.0" text-anchor="end" fill="#666" style="stroke-width:0.08px">100</text>
<line x1="219.30" y1="187.90" x2="220.60" y2="187.90" stroke="#555" stroke-width="0.5"/>
<text x="219.00" y="189.00" font-size="3.0" text-anchor="end" fill="#666" style="stroke-width:0.08px">150</text>
<line x1="219.30" y1="177.60" x2="220.60" y2="177.60" stroke="#555" stroke-width="0.5"/>
<text x="219.00" y="178.70" font-size="3.0" text-anchor="end" fill="#666" style="stroke-width:0.08px">200</text>
<path d="M222.80,218.80 V217.50 Q222.80,216.20 224.90,216.20 Q227.00,216.20 227.00,217.50 V218.80" fill="#fff" stroke="#111" stroke-width="0.8"/>
<path d="M228.90,218.80 V217.50 Q228.90,216.20 231.00,216.20 Q233.10,216.20 233.10,217.50 V218.80 Z" fill="#111"/>
<text x="227.90" y="223.80" font-size="4.2" text-anchor="middle" fill="#333">-</text>
<text x="227.90" y="230.40" font-size="5.3" text-anchor="middle" fill="#222">0</text>
<path d="M238.80,218.80 V216.80 Q238.80,215.50 240.90,215.50 Q243.00,215.50 243.00,216.80 V218.80" fill="#fff" stroke="#111" stroke-width="0.8"/>
<path d="M244.90,218.80 V217.22 Q244.90,215.92 247.00,215.92 Q249.10,215.92 249.10,217.22 V218.80 Z" fill="#111"/>
<text x="243.90" y="223.80" font-size="4.2" text-anchor="middle" fill="#333">-</text>
<text x="243.90" y="230.40" font-size="5.3" text-anchor="middle" fill="#222">100</text>
<line x1="263.00" y1="198.20" x2="263.00" y2="193.26" stroke="#333" stroke-width="0.6"/>
<line x1="262.00" y1="193.26" x2="264.00" y2="193.26" stroke="#333" stroke-width="0.6"/>
<rect x="254.80" y="198.20" width="4.20" height="20.60" fill="#fff" stroke="#111" stroke-width="0.7"/>
<rect x="260.90" y="198.20" width="4.20" height="20.60" fill="#111"/>
<text x="259.90" y="223.80" font-size="4.2" text-anchor="middle" fill="#333">+</text>
<text x="259.90" y="230.40" font-size="5.3" text-anchor="middle" fill="#222">0</text>
<line x1="272.90" y1="195.52" x2="272.90" y2="189.96" stroke="#333" stroke-width="0.6"/>
<line x1="271.90" y1="189.96" x2="273.90" y2="189.96" stroke="#333" stroke-width="0.6"/>
<line x1="279.00" y1="193.67" x2="279.00" y2="184.19" stroke="#333" stroke-width="0.6"/>
<line x1="278.00" y1="184.19" x2="280.00" y2="184.19" stroke="#333" stroke-width="0.6"/>
<rect x="270.80" y="195.52" width="4.20" height="23.28" fill="#fff" stroke="#111" stroke-width="0.7"/>
<rect x="276.90" y="193.67" width="4.20" height="25.13" fill="#111"/>
<text x="275.90" y="223.80" font-size="4.2" text-anchor="middle" fill="#333">+</text>
<text x="275.90" y="230.40" font-size="5.3" text-anchor="middle" fill="#222">0.1</text>
<text x="252.00" y="176.30" font-size="6.4" text-anchor="middle" fill="#222" style="stroke-width:0.06px">ARG1</text>
<line x1="244.40" y1="177.60" x2="259.60" y2="177.60" stroke="#333" stroke-width="0.6"/>
<line x1="146.70" y1="244.90" x2="146.70" y2="286.60" stroke="#333" stroke-width="0.7"/>
<line x1="146.70" y1="286.60" x2="209.00" y2="286.60" stroke="#333" stroke-width="0.8"/>
<line x1="145.40" y1="286.60" x2="146.70" y2="286.60" stroke="#555" stroke-width="0.5"/>
<text x="145.10" y="287.70" font-size="3.0" text-anchor="end" fill="#666" style="stroke-width:0.08px">0</text>
<line x1="145.40" y1="276.30" x2="146.70" y2="276.30" stroke="#555" stroke-width="0.5"/>
<text x="145.10" y="277.40" font-size="3.0" text-anchor="end" fill="#666" style="stroke-width:0.08px">50</text>
<line x1="145.40" y1="266.00" x2="146.70" y2="266.00" stroke="#555" stroke-width="0.5"/>
<text x="145.10" y="267.10" font-size="3.0" text-anchor="end" fill="#666" style="stroke-width:0.08px">100</text>
<line x1="145.40" y1="255.70" x2="146.70" y2="255.70" stroke="#555" stroke-width="0.5"/>
<text x="145.10" y="256.80" font-size="3.0" text-anchor="end" fill="#666" style="stroke-width:0.08px">150</text>
<line x1="145.40" y1="245.40" x2="146.70" y2="245.40" stroke="#555" stroke-width="0.5"/>
<text x="145.10" y="246.50" font-size="3.0" text-anchor="end" fill="#666" style="stroke-width:0.08px">200</text>
<path d="M148.90,286.60 V284.40 Q148.90,283.10 151.00,283.10 Q153.10,283.10 153.10,284.40 V286.60" fill="#fff" stroke="#111" stroke-width="0.8"/>
<path d="M155.00,286.60 V284.81 Q155.00,283.51 157.10,283.51 Q159.20,283.51 159.20,284.81 V286.60 Z" fill="#111"/>
<text x="154.00" y="292.10" font-size="4.2" text-anchor="middle" fill="#333">-</text>
<text x="154.00" y="298.70" font-size="5.3" text-anchor="middle" fill="#222">0</text>
<path d="M164.90,286.60 V285.30 Q164.90,284.00 167.00,284.00 Q169.10,284.00 169.10,285.30 V286.60" fill="#fff" stroke="#111" stroke-width="0.8"/>
<path d="M171.00,286.60 V285.30 Q171.00,284.00 173.10,284.00 Q175.20,284.00 175.20,285.30 V286.60 Z" fill="#111"/>
<text x="170.00" y="292.10" font-size="4.2" text-anchor="middle" fill="#333">-</text>
<text x="170.00" y="298.70" font-size="5.3" text-anchor="middle" fill="#222">100</text>
<line x1="189.10" y1="265.59" x2="189.10" y2="261.06" stroke="#333" stroke-width="0.6"/>
<line x1="188.10" y1="261.06" x2="190.10" y2="261.06" stroke="#333" stroke-width="0.6"/>
<rect x="180.90" y="266.00" width="4.20" height="20.60" fill="#fff" stroke="#111" stroke-width="0.7"/>
<rect x="187.00" y="265.59" width="4.20" height="21.01" fill="#111"/>
<text x="186.00" y="292.10" font-size="4.2" text-anchor="middle" fill="#333">+</text>
<text x="186.00" y="298.70" font-size="5.3" text-anchor="middle" fill="#222">0</text>
<line x1="199.00" y1="258.17" x2="199.00" y2="252.61" stroke="#333" stroke-width="0.6"/>
<line x1="198.00" y1="252.61" x2="200.00" y2="252.61" stroke="#333" stroke-width="0.6"/>
<line x1="205.10" y1="257.55" x2="205.10" y2="252.61" stroke="#333" stroke-width="0.6"/>
<line x1="204.10" y1="252.61" x2="206.10" y2="252.61" stroke="#333" stroke-width="0.6"/>
<rect x="196.90" y="258.17" width="4.20" height="28.43" fill="#fff" stroke="#111" stroke-width="0.7"/>
<rect x="203.00" y="257.55" width="4.20" height="29.05" fill="#111"/>
<text x="202.00" y="292.10" font-size="4.2" text-anchor="middle" fill="#333">+</text>
<text x="202.00" y="298.70" font-size="5.3" text-anchor="middle" fill="#222">0.1</text>
<text x="176.70" y="242.10" font-size="6.4" text-anchor="middle" fill="#222" style="stroke-width:0.06px">YM1</text>
<line x1="170.90" y1="243.40" x2="182.50" y2="243.40" stroke="#333" stroke-width="0.6"/>
<text x="143.50" y="292.40" font-size="4.8" text-anchor="end" fill="#333">IL-4</text>
<text x="145.40" y="298.70" font-size="5.4" text-anchor="end" fill="#222">nM PPT</text>
<text x="0" y="0" font-size="5" text-anchor="middle" fill="#555" style="stroke-width:0.05px" transform="translate(135.70,262.00) rotate(-90)">% IL-4 male induced</text>
<line x1="220.20" y1="244.90" x2="220.20" y2="286.60" stroke="#333" stroke-width="0.7"/>
<line x1="220.20" y1="286.60" x2="284.00" y2="286.60" stroke="#333" stroke-width="0.8"/>
<line x1="218.90" y1="286.60" x2="220.20" y2="286.60" stroke="#555" stroke-width="0.5"/>
<text x="218.60" y="287.70" font-size="3.0" text-anchor="end" fill="#666" style="stroke-width:0.08px">0</text>
<line x1="218.90" y1="276.30" x2="220.20" y2="276.30" stroke="#555" stroke-width="0.5"/>
<text x="218.60" y="277.40" font-size="3.0" text-anchor="end" fill="#666" style="stroke-width:0.08px">100</text>
<line x1="218.90" y1="266.00" x2="220.20" y2="266.00" stroke="#555" stroke-width="0.5"/>
<text x="218.60" y="267.10" font-size="3.0" text-anchor="end" fill="#666" style="stroke-width:0.08px">200</text>
<line x1="218.90" y1="255.70" x2="220.20" y2="255.70" stroke="#555" stroke-width="0.5"/>
<text x="218.60" y="256.80" font-size="3.0" text-anchor="end" fill="#666" style="stroke-width:0.08px">300</text>
<line x1="218.90" y1="245.40" x2="220.20" y2="245.40" stroke="#555" stroke-width="0.5"/>
<text x="218.60" y="246.50" font-size="3.0" text-anchor="end" fill="#666" style="stroke-width:0.08px">400</text>
<path d="M222.40,286.60 V286.60 Q222.40,285.30 224.50,285.30 Q226.60,285.30 226.60,286.60 V286.60" fill="#fff" stroke="#111" stroke-width="0.8"/>
<path d="M228.50,286.60 V286.60 Q228.50,285.30 230.60,285.30 Q232.70,285.30 232.70,286.60 V286.60 Z" fill="#111"/>
<text x="227.50" y="292.10" font-size="4.2" text-anchor="middle" fill="#333">-</text>
<text x="227.50" y="298.70" font-size="5.3" text-anchor="middle" fill="#222">0</text>
<path d="M238.40,286.60 V286.60 Q238.40,285.30 240.50,285.30 Q242.60,285.30 242.60,286.60 V286.60" fill="#fff" stroke="#111" stroke-width="0.8"/>
<path d="M244.50,286.60 V286.60 Q244.50,285.30 246.60,285.30 Q248.70,285.30 248.70,286.60 V286.60 Z" fill="#111"/>
<text x="243.50" y="292.10" font-size="4.2" text-anchor="middle" fill="#333">-</text>
<text x="243.50" y="298.70" font-size="5.3" text-anchor="middle" fill="#222">100</text>
<line x1="262.60" y1="273.21" x2="262.60" y2="267.55" stroke="#333" stroke-width="0.6"/>
<line x1="261.60" y1="267.55" x2="263.60" y2="267.55" stroke="#333" stroke-width="0.6"/>
<rect x="254.40" y="276.30" width="4.20" height="10.30" fill="#fff" stroke="#111" stroke-width="0.7"/>
<rect x="260.50" y="273.21" width="4.20" height="13.39" fill="#111"/>
<text x="259.50" y="292.10" font-size="4.2" text-anchor="middle" fill="#333">+</text>
<text x="259.50" y="298.70" font-size="5.3" text-anchor="middle" fill="#222">0</text>
<line x1="272.50" y1="268.06" x2="272.50" y2="261.37" stroke="#333" stroke-width="0.6"/>
<line x1="271.50" y1="261.37" x2="273.50" y2="261.37" stroke="#333" stroke-width="0.6"/>
<line x1="278.60" y1="262.40" x2="278.60" y2="256.73" stroke="#333" stroke-width="0.6"/>
<line x1="277.60" y1="256.73" x2="279.60" y2="256.73" stroke="#333" stroke-width="0.6"/>
<rect x="270.40" y="268.06" width="4.20" height="18.54" fill="#fff" stroke="#111" stroke-width="0.7"/>
<rect x="276.50" y="262.40" width="4.20" height="24.21" fill="#111"/>
<text x="275.50" y="292.10" font-size="4.2" text-anchor="middle" fill="#333">+</text>
<text x="275.50" y="298.70" font-size="5.3" text-anchor="middle" fill="#222">0.1</text>
<text x="249.40" y="242.10" font-size="6.4" text-anchor="middle" fill="#222" style="stroke-width:0.06px">ARG1</text>
<line x1="241.80" y1="243.40" x2="257.00" y2="243.40" stroke="#333" stroke-width="0.6"/>
<rect x="335.80" y="28.40" width="84.00" height="83.90" fill="#fff" stroke="#6e6e6e" stroke-width="0.8"/>
<line x1="335.90" y1="44.90" x2="419.80" y2="44.90" stroke="#6e6e6e" stroke-width="0.8"/>
<line x1="335.90" y1="61.80" x2="419.80" y2="61.80" stroke="#6e6e6e" stroke-width="0.8"/>
<line x1="335.90" y1="78.90" x2="419.80" y2="78.90" stroke="#6e6e6e" stroke-width="0.8"/>
<line x1="335.90" y1="95.70" x2="419.80" y2="95.70" stroke="#6e6e6e" stroke-width="0.8"/>
<polygon points="336.50,44.90 337.00,44.90 337.50,44.90 338.00,44.90 338.50,44.90 339.00,44.90 339.50,44.90 340.00,44.90 340.50,44.90 341.00,44.90 341.50,44.90 342.00,44.90 342.50,44.90 343.00,44.90 343.50,44.89 344.00,44.89 344.50,44.89 345.00,44.89 345.50,44.89 346.00,44.88 346.50,44.88 347.00,44.87 347.50,44.87 348.00,44.86 348.50,44.86 349.00,44.85 349.50,44.84 350.00,44.82 350.50,44.81 351.00,44.80 351.50,44.78 352.00,44.76 352.50,44.74 353.00,44.72 353.50,44.69 354.00,44.66 354.50,44.63 355.00,44.60 355.50,44.56 356.00,44.53 356.50,44.49 357.00,44.44 357.50,44.40 358.00,44.35 358.50,44.31 359.00,44.26 359.50,44.21 360.00,44.16 360.50,44.11 361.00,44.05 361.50,44.00 362.00,43.95 362.50,43.90 363.00,43.85 363.50,43.80 364.00,43.74 364.50,43.69 365.00,43.64 365.50,43.58 366.00,43.52 366.50,43.46 367.00,43.39 367.50,43.32 368.00,43.24 368.50,43.15 369.00,43.04 369.50,42.93 370.00,42.80 370.50,42.66 371.00,42.50 371.50,42.32 372.00,42.12 372.50,41.89 373.00,41.64 373.50,41.37 374.00,41.07 374.50,40.75 375.00,40.39 375.50,40.02 376.00,39.61 376.50,39.18 377.00,38.73 377.50,38.26 378.00,37.77 378.50,37.26 379.00,36.75 379.50,36.22 380.00,35.69 380.50,35.15 381.00,34.62 381.50,34.10 382.00,33.60 382.50,33.11 383.00,32.65 383.50,32.22 384.00,31.82 384.50,31.46 385.00,31.14 385.50,30.87 386.00,30.65 386.50,30.48 387.00,30.36 387.50,30.30 388.00,30.30 388.50,30.38 389.00,30.56 389.50,30.82 390.00,31.16 390.50,31.58 391.00,32.07 391.50,32.61 392.00,33.21 392.50,33.85 393.00,34.51 393.50,35.20 394.00,35.90 394.50,36.61 395.00,37.30 395.50,37.98 396.00,38.64 396.50,39.27 397.00,39.87 397.50,40.44 398.00,40.96 398.50,41.45 399.00,41.89 399.50,42.30 400.00,42.66 400.50,42.99 401.00,43.27 401.50,43.53 402.00,43.75 402.50,43.94 403.00,44.11 403.50,44.25 404.00,44.36 404.50,44.46 405.00,44.55 405.50,44.62 406.00,44.68 406.50,44.72 407.00,44.76 407.50,44.79 408.00,44.81 408.50,44.83 409.00,44.85 409.50,44.86 410.00,44.87 410.50,44.88 411.00,44.88 411.50,44.89 412.00,44.89 412.50,44.89 413.00,44.90 413.50,44.90 414.00,44.90 414.50,44.90 415.00,44.90 415.50,44.90 416.00,44.90 416.50,44.90 417.00,44.90 417.50,44.90 418.00,44.90 418.50,44.90 419.00,44.90 419.50,44.90 419.5,44.9 336.5,44.9" fill="#000"/>
<polyline points="370.50,61.54 371.00,61.50 371.50,61.45 372.00,61.39 372.50,61.34 373.00,61.28 373.50,61.21 374.00,61.14 374.50,61.07 375.00,60.99 375.50,60.91 376.00,60.83 376.50,60.74 377.00,60.65 377.50,60.56 378.00,60.45 378.50,60.34 379.00,60.22 379.50,60.09 380.00,59.95 380.50,59.78 381.00,59.61 381.50,59.41 382.00,59.19 382.50,58.94 383.00,58.67 383.50,58.37 384.00,58.05 384.50,57.69 385.00,57.30 385.50,56.89 386.00,56.45 386.50,55.98 387.00,55.49 387.50,54.98 388.00,54.45 388.50,53.91 389.00,53.36 389.50,52.81 390.00,52.26 390.50,51.71 391.00,51.18 391.50,50.67 392.00,50.19 392.50,49.73 393.00,49.32 393.50,48.94 394.00,48.61 394.50,48.34 395.00,48.11 395.50,47.95 396.00,47.84 396.50,47.80 397.00,47.83 397.50,47.97 398.00,48.20 398.50,48.53 399.00,48.95 399.50,49.44 400.00,50.01 400.50,50.63 401.00,51.30 401.50,52.00 402.00,52.72 402.50,53.45 403.00,54.18 403.50,54.90 404.00,55.60 404.50,56.26 405.00,56.89 405.50,57.49 406.00,58.04 406.50,58.54 407.00,58.99 407.50,59.41 408.00,59.77 408.50,60.09 409.00,60.38 409.50,60.62 410.00,60.83 410.50,61.01 411.00,61.16 411.50,61.28 412.00,61.39 412.50,61.47 413.00,61.54" fill="none" stroke="#000" stroke-width="1.3"/>
<polygon points="368.50,78.64 369.00,78.58 369.50,78.51 370.00,78.43 370.50,78.34 371.00,78.23 371.50,78.10 372.00,77.96 372.50,77.79 373.00,77.60 373.50,77.38 374.00,77.14 374.50,76.87 375.00,76.56 375.50,76.23 376.00,75.87 376.50,75.47 377.00,75.04 377.50,74.58 378.00,74.09 378.50,73.57 379.00,73.03 379.50,72.46 380.00,71.87 380.50,71.27 381.00,70.66 381.50,70.04 382.00,69.43 382.50,68.83 383.00,68.24 383.50,67.68 384.00,67.14 384.50,66.65 385.00,66.19 385.50,65.79 386.00,65.45 386.50,65.16 387.00,64.94 387.50,64.79 388.00,64.71 388.50,64.71 389.00,64.78 389.50,64.94 390.00,65.18 390.50,65.49 391.00,65.87 391.50,66.32 392.00,66.82 392.50,67.38 393.00,67.97 393.50,68.59 394.00,69.23 394.50,69.89 395.00,70.55 395.50,71.21 396.00,71.86 396.50,72.49 397.00,73.10 397.50,73.68 398.00,74.24 398.50,74.75 399.00,75.24 399.50,75.68 400.00,76.09 400.50,76.46 401.00,76.79 401.50,77.09 402.00,77.36 402.50,77.59 403.00,77.80 403.50,77.98 404.00,78.13 404.50,78.26 405.00,78.38 405.50,78.47 406.00,78.55 406.50,78.62" fill="#eaeaea"/>
<polyline points="368.50,78.64 369.00,78.58 369.50,78.51 370.00,78.43 370.50,78.34 371.00,78.23 371.50,78.10 372.00,77.96 372.50,77.79 373.00,77.60 373.50,77.38 374.00,77.14 374.50,76.87 375.00,76.56 375.50,76.23 376.00,75.87 376.50,75.47 377.00,75.04 377.50,74.58 378.00,74.09 378.50,73.57 379.00,73.03 379.50,72.46 380.00,71.87 380.50,71.27 381.00,70.66 381.50,70.04 382.00,69.43 382.50,68.83 383.00,68.24 383.50,67.68 384.00,67.14 384.50,66.65 385.00,66.19 385.50,65.79 386.00,65.45 386.50,65.16 387.00,64.94 387.50,64.79 388.00,64.71 388.50,64.71 389.00,64.78 389.50,64.94 390.00,65.18 390.50,65.49 391.00,65.87 391.50,66.32 392.00,66.82 392.50,67.38 393.00,67.97 393.50,68.59 394.00,69.23 394.50,69.89 395.00,70.55 395.50,71.21 396.00,71.86 396.50,72.49 397.00,73.10 397.50,73.68 398.00,74.24 398.50,74.75 399.00,75.24 399.50,75.68 400.00,76.09 400.50,76.46 401.00,76.79 401.50,77.09 402.00,77.36 402.50,77.59 403.00,77.80 403.50,77.98 404.00,78.13 404.50,78.26 405.00,78.38 405.50,78.47 406.00,78.55 406.50,78.62" fill="none" stroke="#000" stroke-width="1.3"/>
<polyline points="378.50,95.42 379.00,95.36 379.50,95.29 380.00,95.21 380.50,95.11 381.00,94.99 381.50,94.86 382.00,94.71 382.50,94.54 383.00,94.34 383.50,94.12 384.00,93.87 384.50,93.60 385.00,93.29 385.50,92.96 386.00,92.59 386.50,92.20 387.00,91.77 387.50,91.32 388.00,90.83 388.50,90.32 389.00,89.79 389.50,89.24 390.00,88.67 390.50,88.10 391.00,87.51 391.50,86.93 392.00,86.35 392.50,85.79 393.00,85.24 393.50,84.72 394.00,84.23 394.50,83.79 395.00,83.38 395.50,83.03 396.00,82.74 396.50,82.51 397.00,82.34 397.50,82.23 398.00,82.20 398.50,82.25 399.00,82.40 399.50,82.64 400.00,82.98 400.50,83.40 401.00,83.89 401.50,84.45 402.00,85.06 402.50,85.71 403.00,86.39 403.50,87.09 404.00,87.79 404.50,88.50 405.00,89.18 405.50,89.85 406.00,90.49 406.50,91.09 407.00,91.65 407.50,92.17 408.00,92.65 408.50,93.08 409.00,93.47 409.50,93.81 410.00,94.11 410.50,94.38 411.00,94.60 411.50,94.80 412.00,94.97 412.50,95.11 413.00,95.22 413.50,95.32 414.00,95.40 414.50,95.46" fill="none" stroke="#000" stroke-width="1.3"/>
<polyline points="338.50,112.20 339.00,112.14 339.50,112.04 340.00,111.90 340.50,111.68 341.00,111.39 341.50,110.98 342.00,110.43 342.50,109.73 343.00,108.85 343.50,107.80 344.00,106.56 344.50,105.18 345.00,103.68 345.50,102.14 346.00,100.62 346.50,99.21 347.00,98.00 347.50,97.06 348.00,96.47 348.50,96.26 349.00,96.36 349.50,96.74 350.00,97.37 350.50,98.22 351.00,99.22 351.50,100.34 352.00,101.51 352.50,102.68 353.00,103.82 353.50,104.89 354.00,105.86 354.50,106.72 355.00,107.47 355.50,108.11 356.00,108.64 356.50,109.08 357.00,109.45 357.50,109.76 358.00,110.01 358.50,110.23 359.00,110.43 359.50,110.60 360.00,110.76 360.50,110.91 361.00,111.05 361.50,111.19 362.00,111.31 362.50,111.43 363.00,111.54 363.50,111.65 364.00,111.74 364.50,111.83 365.00,111.90 365.50,111.97 366.00,112.03 366.50,112.08 367.00,112.12 367.50,112.16" fill="none" stroke="#666" stroke-width="1.0"/>
<line x1="336.20" y1="95.70" x2="336.20" y2="112.70" stroke="#222" stroke-width="1.1"/>
<line x1="335.90" y1="112.30" x2="419.80" y2="112.30" stroke="#555" stroke-width="1.0"/>
<line x1="343.00" y1="112.30" x2="343.00" y2="114.00" stroke="#555" stroke-width="0.5"/>
<line x1="353.60" y1="112.30" x2="353.60" y2="114.00" stroke="#555" stroke-width="0.5"/>
<line x1="373.00" y1="112.30" x2="373.00" y2="114.00" stroke="#555" stroke-width="0.5"/>
<line x1="390.50" y1="112.30" x2="390.50" y2="114.00" stroke="#555" stroke-width="0.5"/>
<line x1="408.00" y1="112.30" x2="408.00" y2="114.00" stroke="#555" stroke-width="0.5"/>
<line x1="339.00" y1="112.30" x2="339.00" y2="113.30" stroke="#888" stroke-width="0.4"/>
<line x1="341.00" y1="112.30" x2="341.00" y2="113.30" stroke="#888" stroke-width="0.4"/>
<line x1="345.00" y1="112.30" x2="345.00" y2="113.30" stroke="#888" stroke-width="0.4"/>
<line x1="347.00" y1="112.30" x2="347.00" y2="113.30" stroke="#888" stroke-width="0.4"/>
<line x1="349.00" y1="112.30" x2="349.00" y2="113.30" stroke="#888" stroke-width="0.4"/>
<line x1="351.00" y1="112.30" x2="351.00" y2="113.30" stroke="#888" stroke-width="0.4"/>
<line x1="358.00" y1="112.30" x2="358.00" y2="113.30" stroke="#888" stroke-width="0.4"/>
<line x1="362.00" y1="112.30" x2="362.00" y2="113.30" stroke="#888" stroke-width="0.4"/>
<line x1="365.00" y1="112.30" x2="365.00" y2="113.30" stroke="#888" stroke-width="0.4"/>
<line x1="367.00" y1="112.30" x2="367.00" y2="113.30" stroke="#888" stroke-width="0.4"/>
<line x1="369.00" y1="112.30" x2="369.00" y2="113.30" stroke="#888" stroke-width="0.4"/>
<line x1="371.00" y1="112.30" x2="371.00" y2="113.30" stroke="#888" stroke-width="0.4"/>
<line x1="377.00" y1="112.30" x2="377.00" y2="113.30" stroke="#888" stroke-width="0.4"/>
<line x1="381.00" y1="112.30" x2="381.00" y2="113.30" stroke="#888" stroke-width="0.4"/>
<line x1="384.00" y1="112.30" x2="384.00" y2="113.30" stroke="#888" stroke-width="0.4"/>
<line x1="386.00" y1="112.30" x2="386.00" y2="113.30" stroke="#888" stroke-width="0.4"/>
<line x1="388.00" y1="112.30" x2="388.00" y2="113.30" stroke="#888" stroke-width="0.4"/>
<line x1="395.00" y1="112.30" x2="395.00" y2="113.30" stroke="#888" stroke-width="0.4"/>
<line x1="399.00" y1="112.30" x2="399.00" y2="113.30" stroke="#888" stroke-width="0.4"/>
<line x1="402.00" y1="112.30" x2="402.00" y2="113.30" stroke="#888" stroke-width="0.4"/>
<line x1="404.00" y1="112.30" x2="404.00" y2="113.30" stroke="#888" stroke-width="0.4"/>
<line x1="406.00" y1="112.30" x2="406.00" y2="113.30" stroke="#888" stroke-width="0.4"/>
<text x="343.30" y="123.20" font-size="4.2" text-anchor="middle" fill="#333">0</text>
<text x="354.00" y="123.2" font-size="4.2" text-anchor="middle" fill="#333">10<tspan font-size="3.2" dy="-2.7">2</tspan></text>
<text x="373.00" y="123.2" font-size="4.2" text-anchor="middle" fill="#333">10<tspan font-size="3.2" dy="-2.7">3</tspan></text>
<text x="390.80" y="123.2" font-size="4.2" text-anchor="middle" fill="#333">10<tspan font-size="3.2" dy="-2.7">4</tspan></text>
<text x="408.20" y="123.2" font-size="4.2" text-anchor="middle" fill="#333">10<tspan font-size="3.2" dy="-2.7">5</tspan></text>
<text x="380.40" y="132.00" font-size="8.3" text-anchor="middle" fill="#111">YM1</text>
<line x1="422.40" y1="45.20" x2="431.40" y2="45.20" stroke="#111" stroke-width="1.5"/>
<text x="433.6" y="48.60" font-size="8.7" fill="#222">ER<tspan font-family="Liberation Serif, serif" font-style="italic" font-size="10">α</tspan><tspan font-size="4.8" dy="-3.6">-/-</tspan></text>
<line x1="422.40" y1="61.80" x2="431.40" y2="61.80" stroke="#111" stroke-width="1.5"/>
<text x="433.6" y="65.20" font-size="8.7" fill="#222">ER<tspan font-family="Liberation Serif, serif" font-style="italic" font-size="10">α</tspan><tspan font-size="4.8" dy="-3.6">+/+</tspan></text>
<line x1="422.40" y1="79.30" x2="431.40" y2="79.30" stroke="#111" stroke-width="1.5"/>
<text x="433.6" y="82.70" font-size="8.7" fill="#222">ER<tspan font-family="Liberation Serif, serif" font-style="italic" font-size="10">α</tspan><tspan font-size="4.8" dy="-3.6">-/-</tspan></text>
<line x1="422.40" y1="95.80" x2="431.40" y2="95.80" stroke="#111" stroke-width="1.5"/>
<text x="433.6" y="99.20" font-size="8.7" fill="#222">ER<tspan font-family="Liberation Serif, serif" font-style="italic" font-size="10">α</tspan><tspan font-size="4.8" dy="-3.6">+/+</tspan></text>
<line x1="422.60" y1="112.30" x2="431.40" y2="112.30" stroke="#111" stroke-width="1.5"/>
<text x="434.00" y="114.90" font-size="8.6" fill="#222">Isotype</text>
<path d="M459.80,43.00 H461.60 V67.00 H459.80 M461.60,55.00 h0.8" fill="none" stroke="#999" stroke-width="0.6"/>
<path d="M459.00,76.40 H460.80 V99.60 H459.00 M460.80,88.00 h0.8" fill="none" stroke="#999" stroke-width="0.6"/>
<text x="0" y="0" font-size="8.8" fill="#222" text-anchor="middle" transform="translate(465.9,54.4) rotate(90)">Female</text>
<text x="0" y="0" font-size="8.8" fill="#222" text-anchor="middle" transform="translate(466.1,86.8) rotate(90)">Male</text>
<line x1="336.20" y1="158.50" x2="336.20" y2="210.30" stroke="#111" stroke-width="0.9"/>
<line x1="336.20" y1="210.30" x2="410.40" y2="210.30" stroke="#111" stroke-width="0.9"/>
<line x1="334.70" y1="160.30" x2="336.20" y2="160.30" stroke="#111" stroke-width="0.7"/>
<text x="334.00" y="162.60" font-size="6.6" text-anchor="end" font-weight="bold" fill="#1a1a1a" letter-spacing="0.3">2.5<tspan font-size="4.09" font-weight="normal" dy="-0.3">×</tspan><tspan dy="0.3">10</tspan><tspan font-size="3.63" dy="-2.64" dx="0.2">4</tspan></text>
<line x1="334.70" y1="170.30" x2="336.20" y2="170.30" stroke="#111" stroke-width="0.7"/>
<text x="334.00" y="172.60" font-size="6.6" text-anchor="end" font-weight="bold" fill="#1a1a1a" letter-spacing="0.3">2<tspan font-size="4.09" font-weight="normal" dy="-0.3">×</tspan><tspan dy="0.3">10</tspan><tspan font-size="3.63" dy="-2.64" dx="0.2">4</tspan></text>
<line x1="334.70" y1="180.30" x2="336.20" y2="180.30" stroke="#111" stroke-width="0.7"/>
<text x="334.00" y="182.60" font-size="6.6" text-anchor="end" font-weight="bold" fill="#1a1a1a" letter-spacing="0.3">1.5<tspan font-size="4.09" font-weight="normal" dy="-0.3">×</tspan><tspan dy="0.3">10</tspan><tspan font-size="3.63" dy="-2.64" dx="0.2">4</tspan></text>
<line x1="334.70" y1="190.30" x2="336.20" y2="190.30" stroke="#111" stroke-width="0.7"/>
<text x="334.00" y="192.60" font-size="6.6" text-anchor="end" font-weight="bold" fill="#1a1a1a" letter-spacing="0.3">1<tspan font-size="4.09" font-weight="normal" dy="-0.3">×</tspan><tspan dy="0.3">10</tspan><tspan font-size="3.63" dy="-2.64" dx="0.2">4</tspan></text>
<line x1="334.70" y1="200.30" x2="336.20" y2="200.30" stroke="#111" stroke-width="0.7"/>
<text x="334.00" y="202.60" font-size="6.6" text-anchor="end" font-weight="bold" fill="#1a1a1a" letter-spacing="0.3">5<tspan font-size="4.09" font-weight="normal" dy="-0.3">×</tspan><tspan dy="0.3">10</tspan><tspan font-size="3.63" dy="-2.64" dx="0.2">3</tspan></text>
<line x1="334.70" y1="210.30" x2="336.20" y2="210.30" stroke="#111" stroke-width="0.7"/>
<text x="333.60" y="212.50" font-size="6.6" text-anchor="end" font-weight="bold" fill="#222">0</text>
<rect x="342.10" y="168.70" width="8.30" height="41.60" fill="#fff" stroke="#000" stroke-width="1.05"/>
<rect x="356.20" y="175.30" width="9.00" height="35.00" fill="#000"/>
<rect x="381.80" y="196.60" width="8.00" height="13.70" fill="#fff" stroke="#000" stroke-width="1.05"/>
<rect x="395.70" y="198.00" width="9.10" height="12.30" fill="#000"/>
<text x="0" y="0" font-size="5.6" text-anchor="middle" fill="#444" style="stroke-width:0.1px" transform="translate(306.2,185) rotate(-90)">ΔMFI</text>
<text x="367.00" y="153.20" font-size="8.8" text-anchor="middle" fill="#111">YM1</text>
<line x1="357.80" y1="154.90" x2="376.20" y2="154.90" stroke="#222" stroke-width="0.9"/>
<text x="341.60" y="220.40" font-size="8.6" fill="#222">ER<tspan font-family="Liberation Serif, serif" font-style="italic" font-size="9.89">α</tspan><tspan font-size="4.82" dy="-3.61">+/+</tspan></text>
<text x="381.00" y="220.40" font-size="8.6" fill="#222">ER<tspan font-family="Liberation Serif, serif" font-style="italic" font-size="9.89">α</tspan><tspan font-size="4.82" dy="-3.61">-/-</tspan></text>
<line x1="449.00" y1="161.50" x2="449.00" y2="209.20" stroke="#111" stroke-width="0.9"/>
<line x1="449.00" y1="209.20" x2="516.60" y2="209.20" stroke="#111" stroke-width="0.9"/>
<line x1="447.50" y1="163.70" x2="449.00" y2="163.70" stroke="#111" stroke-width="0.7"/>
<text x="446.40" y="165.70" font-size="6.4" text-anchor="end" font-weight="bold" fill="#1a1a1a" letter-spacing="0.45">1<tspan font-size="5.44" font-weight="normal" dy="-0.3">×</tspan><tspan dy="0.3">10</tspan><tspan font-size="3.52" dy="-2.56" dx="0.2">4</tspan></text>
<line x1="447.50" y1="172.80" x2="449.00" y2="172.80" stroke="#111" stroke-width="0.7"/>
<text x="446.40" y="174.80" font-size="6.4" text-anchor="end" font-weight="bold" fill="#1a1a1a" letter-spacing="0.45">8<tspan font-size="5.44" font-weight="normal" dy="-0.3">×</tspan><tspan dy="0.3">10</tspan><tspan font-size="3.52" dy="-2.56" dx="0.2">3</tspan></text>
<line x1="447.50" y1="181.90" x2="449.00" y2="181.90" stroke="#111" stroke-width="0.7"/>
<text x="446.40" y="183.90" font-size="6.4" text-anchor="end" font-weight="bold" fill="#1a1a1a" letter-spacing="0.45">6<tspan font-size="5.44" font-weight="normal" dy="-0.3">×</tspan><tspan dy="0.3">10</tspan><tspan font-size="3.52" dy="-2.56" dx="0.2">3</tspan></text>
<line x1="447.50" y1="191.00" x2="449.00" y2="191.00" stroke="#111" stroke-width="0.7"/>
<text x="446.40" y="193.00" font-size="6.4" text-anchor="end" font-weight="bold" fill="#1a1a1a" letter-spacing="0.45">4<tspan font-size="5.44" font-weight="normal" dy="-0.3">×</tspan><tspan dy="0.3">10</tspan><tspan font-size="3.52" dy="-2.56" dx="0.2">3</tspan></text>
<line x1="447.50" y1="200.10" x2="449.00" y2="200.10" stroke="#111" stroke-width="0.7"/>
<text x="446.40" y="202.10" font-size="6.4" text-anchor="end" font-weight="bold" fill="#1a1a1a" letter-spacing="0.45">2<tspan font-size="5.44" font-weight="normal" dy="-0.3">×</tspan><tspan dy="0.3">10</tspan><tspan font-size="3.52" dy="-2.56" dx="0.2">3</tspan></text>
<line x1="447.50" y1="209.20" x2="449.00" y2="209.20" stroke="#111" stroke-width="0.7"/>
<text x="446.40" y="211.40" font-size="6.6" text-anchor="end" font-weight="bold" fill="#222">0</text>
<line x1="458.90" y1="185.08" x2="458.90" y2="174.16" stroke="#333" stroke-width="0.7"/>
<line x1="457.20" y1="174.16" x2="460.60" y2="174.16" stroke="#333" stroke-width="0.7"/>
<line x1="495.80" y1="207.15" x2="495.80" y2="206.01" stroke="#333" stroke-width="0.7"/>
<rect x="454.90" y="185.08" width="8.10" height="24.12" fill="#fff" stroke="#000" stroke-width="1.05"/>
<rect x="466.50" y="188.27" width="10.20" height="20.93" fill="#000"/>
<rect x="492.20" y="207.15" width="7.30" height="2.05" fill="#fff" stroke="#000" stroke-width="1.05"/>
<rect x="505.50" y="208.06" width="8.10" height="1.14" fill="#000"/>
<text x="0" y="0" font-size="6.1" text-anchor="middle" fill="#3a3a3a" style="stroke-width:0.1px" transform="translate(420.2,178.1) rotate(-90)">cell numbers</text>
<text x="483.8" y="152.9" font-size="8.4" text-anchor="middle" fill="#111">YM1<tspan font-size="4.8" dy="-3.2">hi</tspan><tspan dy="3.2"> Mϕ</tspan></text>
<line x1="465.00" y1="154.40" x2="503.00" y2="154.40" stroke="#222" stroke-width="0.8"/>
<text x="453.40" y="218.90" font-size="8.5" fill="#222">ER<tspan font-family="Liberation Serif, serif" font-style="italic" font-size="9.77">α</tspan><tspan font-size="4.76" dy="-3.57">+/+</tspan></text>
<text x="492.00" y="218.90" font-size="8.5" fill="#222">ER<tspan font-family="Liberation Serif, serif" font-style="italic" font-size="9.77">α</tspan><tspan font-size="4.76" dy="-3.57">-/-</tspan></text>
</svg>
</body></html>
